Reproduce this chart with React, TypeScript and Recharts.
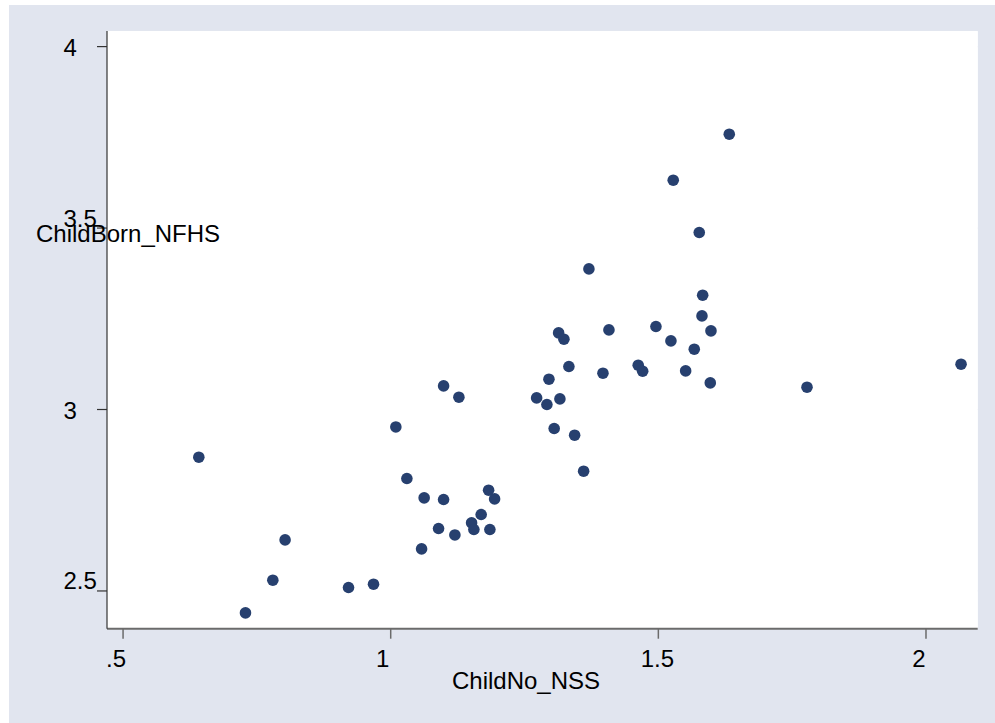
import React from "react";
import { ScatterChart, Scatter, XAxis, YAxis, CartesianGrid } from "recharts";

// ChildNo_NSS vs ChildBorn_NFHS, one point per state
const childNoNSS = [
  0.6415, 0.7287, 0.7798, 0.8027, 0.9212, 0.9679, 1.0096, 1.0302, 1.0625, 1.0988,
  1.0988, 1.1274, 1.0577, 1.0894, 1.1199, 1.1511, 1.1554, 1.169, 1.1829, 1.1941,
  1.1853, 1.2726, 1.2918, 1.2956, 1.3161, 1.3329, 1.3054, 1.3436, 1.3604, 1.3703,
  1.3137, 1.3236, 1.3965, 1.4077, 1.4955, 1.5235, 1.4624, 1.4707, 1.551, 1.5671,
  1.5828, 1.5815, 1.5983, 1.597, 1.6325, 1.5278, 1.5764, 1.7777, 2.0655,
];
const childBornNFHS = [
  2.8686, 2.4395, 2.5296, 2.6407, 2.5095, 2.5186, 2.952, 2.8099, 2.7564, 3.065,
  2.752, 3.0339, 2.6159, 2.6721, 2.6544, 2.6875, 2.6693, 2.7107, 2.7776, 2.7537,
  2.6693, 3.032, 3.0138, 3.0835, 3.0292, 3.1185, 2.9476, 2.9292, 2.83, 3.3874,
  3.2111, 3.1937, 3.1, 3.2193, 3.2287, 3.189, 3.1221, 3.1055, 3.1064, 3.1662,
  3.315, 3.2579, 3.2166, 3.0733, 3.7586, 3.6319, 3.4877, 3.0614, 3.1248,
];

const xTicks = [0.5, 1, 1.5, 2];
const xTickLabels = [".5", "1", "1.5", "2"];
const yTicks = [2.5, 3, 3.5, 4];
const yTickLabels = ["2.5", "3", "3.5", "4"];

const data = childNoNSS.map((x, i) => ({ x, y: childBornNFHS[i] }));

const FONT = "'Liberation Sans', Arial, Helvetica, sans-serif";
const NAVY = "#27406f";

const XTick = (props: any) => {
  const { x, payload } = props;
  const i = xTicks.indexOf(payload.value);
  const dx = [-7, -8, -1, -7][i] ?? 0;
  return (
    <text x={x + dx} y={667} textAnchor="middle" fontSize={24} fontFamily={FONT} fill="#000">
      {xTickLabels[i]}
    </text>
  );
};

const YTick = (props: any) => {
  const { y, payload } = props;
  const i = yTicks.indexOf(payload.value);
  // whole numbers sit centred on the tick, halves sit just above it
  const dy = Number.isInteger(payload.value) ? 9.5 : -1.5;
  return (
    <text x={63.5} y={y + dy} textAnchor="start" fontSize={24} fontFamily={FONT} fill="#000">
      {yTickLabels[i]}
    </text>
  );
};

export default function App() {
  return (
    <div style={{ position: "absolute", left: 0, top: 0, width: 995, height: 723 }}>
      <div
        style={{ position: "absolute", left: 9, top: 5, width: 986, height: 718, background: "#e1e5ef" }}
      />
      <div style={{ position: "absolute", left: 0, top: 0 }}>
        <ScatterChart
          width={995}
          height={723}
          margin={{ top: 31, right: 17.3, bottom: 64.3, left: 47 }}
        >
          <rect x={107} y={31} width={870.7} height={597.7} fill="#fff" />
          <CartesianGrid vertical={false} stroke="#e3e7ef" strokeWidth={1.2} fill="#fff" />
          <XAxis
            type="number"
            dataKey="x"
            domain={[0.47, 2.0966]}
            ticks={xTicks}
            allowDataOverflow
            height={30}
            tickSize={10}
            stroke="#6b6b6b"
            strokeWidth={2}
            tickLine={{ stroke: "#6b6b6b", strokeWidth: 1.5 }}
            tick={<XTick />}
            label={{
              content: () => (
                <text x={452} y={689} fontSize={24} fontFamily={FONT} fill="#000">
                  ChildNo_NSS
                </text>
              ),
            }}
          />
          <YAxis
            type="number"
            dataKey="y"
            domain={[2.396, 4.043]}
            ticks={yTicks}
            allowDataOverflow
            width={60}
            tickSize={10}
            stroke="#333"
            strokeWidth={1.2}
            tickLine={{ stroke: "#333", strokeWidth: 1.2 }}
            tick={<YTick />}
            label={{
              content: () => (
                <text x={36} y={241.5} fontSize={24} fontFamily={FONT} fill="#000">
                  ChildBorn_NFHS
                </text>
              ),
            }}
          />
          <Scatter
            data={data}
            isAnimationActive={false}
            shape={(p: any) => <circle cx={p.cx} cy={p.cy} r={5.8} fill={NAVY} />}
          />
        </ScatterChart>
      </div>
    </div>
  );
}
